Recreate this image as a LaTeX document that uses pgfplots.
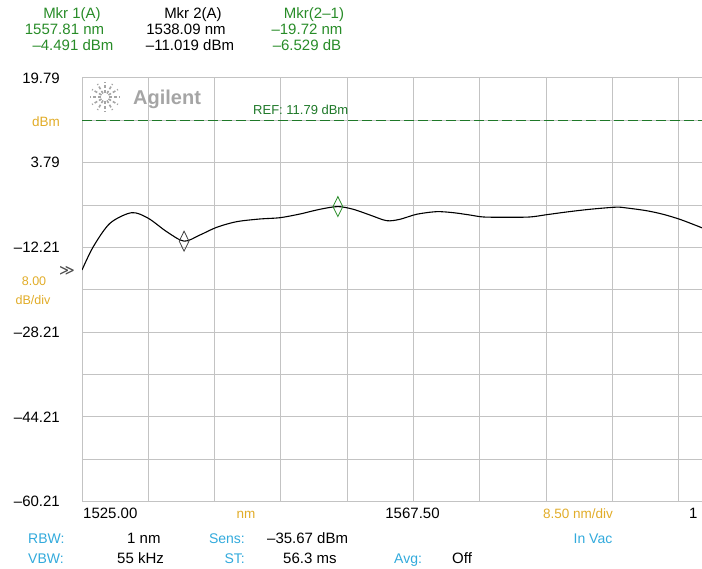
\documentclass[border=0pt]{standalone}
\usepackage{pgfplots}
\pgfplotsset{compat=1.18}
\usepackage{fontspec}
\setmainfont{Liberation Sans}
\newfontfamily\dejavu{DejaVu Sans}
\definecolor{agreen}{RGB}{40,140,40}
\definecolor{refgreen}{RGB}{30,120,40}
\definecolor{aorange}{RGB}{225,172,40}
\definecolor{acyan}{RGB}{50,170,220}
\definecolor{agrid}{RGB}{195,195,195}
\definecolor{alogo}{RGB}{165,165,165}
\newcommand{\fs}[1]{\fontsize{#1}{#1}\selectfont}

\begin{document}
\begin{tikzpicture}
\useasboundingbox (0pt,0pt) rectangle (702pt,569pt);
\begin{axis}[
    at={(82pt,67.3pt)}, anchor=south west,
    width=620pt, height=423.7pt, scale only axis,
    xmin=1525, xmax=1604.5,
    ymin=-60.21, ymax=19.79,
    xtick={1525,1533.5,1542,1550.5,1559,1567.5,1576,1584.5,1593,1601.5},
    xticklabels={},
    ytick={-60.21,-44.21,-28.21,-12.21,3.79,19.79},
    yticklabels={\textendash60.21,\textendash44.21,\textendash28.21,\textendash12.21,3.79,19.79},
    minor ytick={-52.21,-36.21,-20.21,-4.21,11.79},
    yticklabel style={font=\fs{15}, anchor=east, inner sep=0pt, xshift=-22pt},
    grid=both,
    grid style={draw=agrid, line width=1pt},
    minor grid style={draw=agrid, line width=1pt},
    axis line style={draw=none},
    tick style={draw=none},
]
% reference level
\addplot[refgreen, line width=1pt, dash pattern=on 10pt off 4pt] coordinates {(1525,11.79) (1604.5,11.79)};
% trace A
\addplot[black, line width=1.1pt, smooth] coordinates {
(1525.00,-16.46) (1526.45,-12.06) (1528.59,-7.64) (1531.37,-5.64) (1533.50,-6.70)
(1535.86,-9.23) (1538.09,-11.02) (1540.13,-9.85) (1542.27,-8.40) (1544.83,-7.34)
(1547.82,-6.83) (1550.38,-6.59) (1552.95,-5.89) (1555.51,-5.00) (1557.81,-4.49)
(1559.78,-5.00) (1561.92,-6.08) (1564.06,-7.15) (1565.77,-6.89) (1567.91,-5.94)
(1570.47,-5.45) (1572.60,-5.64) (1574.74,-6.08) (1576.45,-6.45) (1579.45,-6.51)
(1582.44,-6.45) (1584.58,-6.02) (1587.14,-5.51) (1590.13,-5.00) (1593.46,-4.60)
(1594.83,-4.75) (1597.40,-5.27) (1599.53,-5.95) (1601.67,-6.90) (1603.59,-7.97)
(1604.50,-8.50)
};
% markers
\addplot[only marks, mark=diamond, mark size=10pt,
    mark options={xscale=0.65, draw=black!75, fill=none, line width=0.8pt}]
    coordinates {(1538.09,-11.019)};
\addplot[only marks, mark=diamond, mark size=10pt,
    mark options={xscale=0.65, draw=agreen, fill=none, line width=0.8pt}]
    coordinates {(1557.81,-4.491)};
\end{axis}

% logo
\foreach \a in {0,30,...,330}
  \draw[alogo, line width=1.6pt, dash pattern=on 3pt off 2pt] (105pt,472pt) ++(\a:4pt) -- ++(\a:11pt);
\node[anchor=base west, inner sep=0pt, font=\bfseries\fs{20}, text=alogo] at (133pt,464.8pt) {Agilent};
\node[anchor=base west, inner sep=0pt, font=\fs{13}, text=refgreen] at (253pt,454.4pt) {REF: 11.79 dBm};

% header
\begin{scope}[every node/.style={anchor=base, inner sep=0pt, font=\fs{15}}]
\node[text=agreen] at (72pt,550.6pt) {Mkr 1(A)};
\node[text=agreen] at (64.5pt,534.6pt) {1557.81 nm};
\node[text=agreen] at (73pt,518.6pt) {\textendash4.491 dBm};
\node at (193pt,550.6pt) {Mkr 2(A)};
\node at (186pt,534.6pt) {1538.09 nm};
\node at (190pt,518.6pt) {\textendash11.019 dBm};
\node[text=agreen] at (314pt,550.6pt) {Mkr(2\textendash1)};
\node[text=agreen] at (307pt,534.6pt) {\textendash19.72 nm};
\node[text=agreen] at (307pt,518.6pt) {\textendash6.529 dB};
\end{scope}

% left side labels
\node[anchor=base east, inner sep=0pt, font=\fs{13.5}, text=aorange] at (60pt,442pt) {dBm};
\node[anchor=base, inner sep=0pt, font=\fs{12.5}, text=aorange] at (34pt,283.7pt) {8.00};
\node[anchor=base, inner sep=0pt, font=\fs{12.5}, text=aorange] at (33pt,264.7pt) {dB/div};
\node[inner sep=0pt, font=\dejavu\fs{15}, text=black!70] at (67pt,298pt) {≫};

% bottom labels
\begin{scope}[every node/.style={anchor=base west, inner sep=0pt, font=\fs{15}}]
\node at (83pt,50.6pt) {1525.00};
\node[anchor=base] at (412.5pt,50.6pt) {1567.50};
\node at (689pt,50.6pt) {1};
\node[anchor=base, font=\fs{13.5}, text=aorange] at (246pt,50.6pt) {nm};
\node[anchor=base, font=\fs{13.5}, text=aorange] at (578pt,50.6pt) {8.50 nm/div};
\node[font=\fs{14}, text=acyan] at (28pt,25.6pt) {RBW:};
\node at (127pt,25.6pt) {1 nm};
\node[anchor=base east, font=\fs{14}, text=acyan] at (245pt,25.6pt) {Sens:};
\node at (267pt,25.6pt) {\textendash35.67 dBm};
\node[anchor=base, font=\fs{14}, text=acyan] at (593pt,25.6pt) {In Vac};
\node[font=\fs{14}, text=acyan] at (28pt,5.6pt) {VBW:};
\node at (117pt,5.6pt) {55 kHz};
\node[anchor=base east, font=\fs{14}, text=acyan] at (245pt,5.6pt) {ST:};
\node at (283pt,5.6pt) {56.3 ms};
\node[font=\fs{14}, text=acyan] at (394pt,5.6pt) {Avg:};
\node at (452pt,5.6pt) {Off};
\end{scope}
\end{tikzpicture}
\end{document}
